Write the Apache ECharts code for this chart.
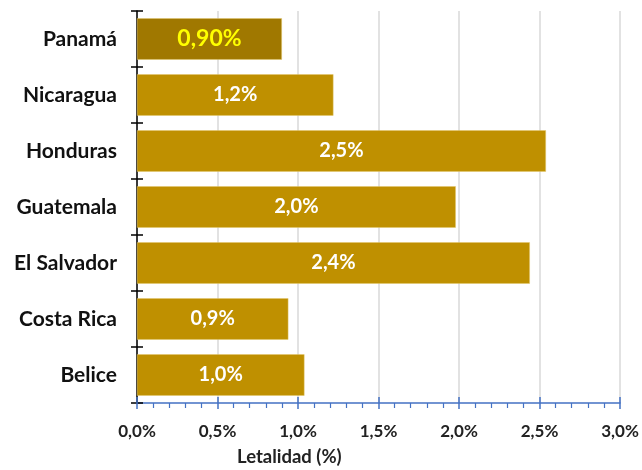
<!DOCTYPE html>
<html lang="es">
<head>
  <meta charset="UTF-8">
  <title>Letalidad</title>
  <style>
    html, body { margin: 0; padding: 0; background: #fff; }
    #main { width: 642px; height: 470px; }
  </style>
  <script src="https://cdn.jsdelivr.net/npm/echarts@6/dist/echarts.min.js"></script>
</head>
<body>
<div id="main"></div>
<script>
  // datos (de abajo hacia arriba)
  var paises = ['Belice', 'Costa Rica', 'El Salvador', 'Guatemala', 'Honduras', 'Nicaragua', 'Panamá'];
  var letalidad = [1.04, 0.94, 2.44, 1.98, 2.54, 1.22, 0.90];
  var ticksX = [0, 0.5, 1, 1.5, 2, 2.5, 3];

  var fuente = 'Lato, "Open Sans", sans-serif';
  var oro = '#BF9000';
  var oroOscuro = '#A07800';

  function pct(v, d) {
    return v.toFixed(d).replace('.', ',') + '%';
  }

  var datos = letalidad.map(function (v, i) {
    var esPanama = paises[i] === 'Panamá';
    return {
      value: v,
      itemStyle: { color: esPanama ? oroOscuro : oro },
      label: esPanama ? { color: '#FFFF00', fontSize: 23, formatter: pct(v, 2) } : {}
    };
  });

  var myChart = echarts.init(document.getElementById('main'));
  var option = {
    animation: false,
    grid: { left: 137, right: 22, top: 11, bottom: 67 },
    title: {
      text: 'Letalidad (%)',
      left: 237,
      top: 448,
      padding: 0,
      textStyle: { fontFamily: fuente, fontWeight: 'bold', fontSize: 18.5, color: '#222' }
    },
    xAxis: [
      {
        type: 'value',
        min: ticksX[0],
        max: ticksX[ticksX.length - 1],
        interval: 0.5,
        axisLine: { show: true, lineStyle: { color: '#4472C4', width: 1.5 } },
        axisTick: { show: true, length: 6, lineStyle: { color: '#4472C4', width: 1.5 } },
        minorTick: { show: true, splitNumber: 5, length: 5, lineStyle: { color: '#4472C4', width: 1.2 } },
        splitLine: { show: true, lineStyle: { color: '#D9D9D9', width: 1.5 } },
        axisLabel: {
          margin: 20,
          fontFamily: fuente, fontWeight: 'bold', fontSize: 17, color: '#222',
          formatter: function (v) { return pct(v, 1); }
        }
      },
      {
        type: 'value',
        position: 'bottom',
        min: ticksX[0],
        max: ticksX[ticksX.length - 1],
        interval: 0.5,
        axisLine: { show: false },
        axisTick: { show: true, inside: true, length: 6, lineStyle: { color: '#4472C4', width: 1.5 } },
        splitLine: { show: false },
        axisLabel: { show: false }
      }
    ],
    yAxis: [
      {
        type: 'category',
        data: paises,
        axisLine: { show: true, lineStyle: { color: '#000', width: 1.5 } },
        axisTick: { show: true, length: 6, lineStyle: { color: '#000', width: 1.5 } },
        axisLabel: {
          margin: 20,
          fontFamily: fuente, fontWeight: 'bold', fontSize: 21, color: '#111'
        }
      },
      {
        type: 'category',
        data: paises,
        position: 'left',
        axisLine: { show: false },
        axisTick: { show: true, inside: true, length: 6, lineStyle: { color: '#000', width: 1.5 } },
        axisLabel: { show: false }
      }
    ],
    series: [
      {
        type: 'bar',
        xAxisIndex: 0,
        yAxisIndex: 0,
        data: datos,
        barCategoryGap: '26%',
        itemStyle: { color: oro, borderColor: '#E3C66A', borderWidth: 0.5 },
        label: {
          show: true,
          position: 'inside',
          fontFamily: fuente,
          fontWeight: 'bold',
          fontSize: 20,
          color: '#fff',
          formatter: function (p) { return pct(p.value, 1); }
        }
      }
    ]
  };
  myChart.setOption(option);
</script>
</body>
</html>
